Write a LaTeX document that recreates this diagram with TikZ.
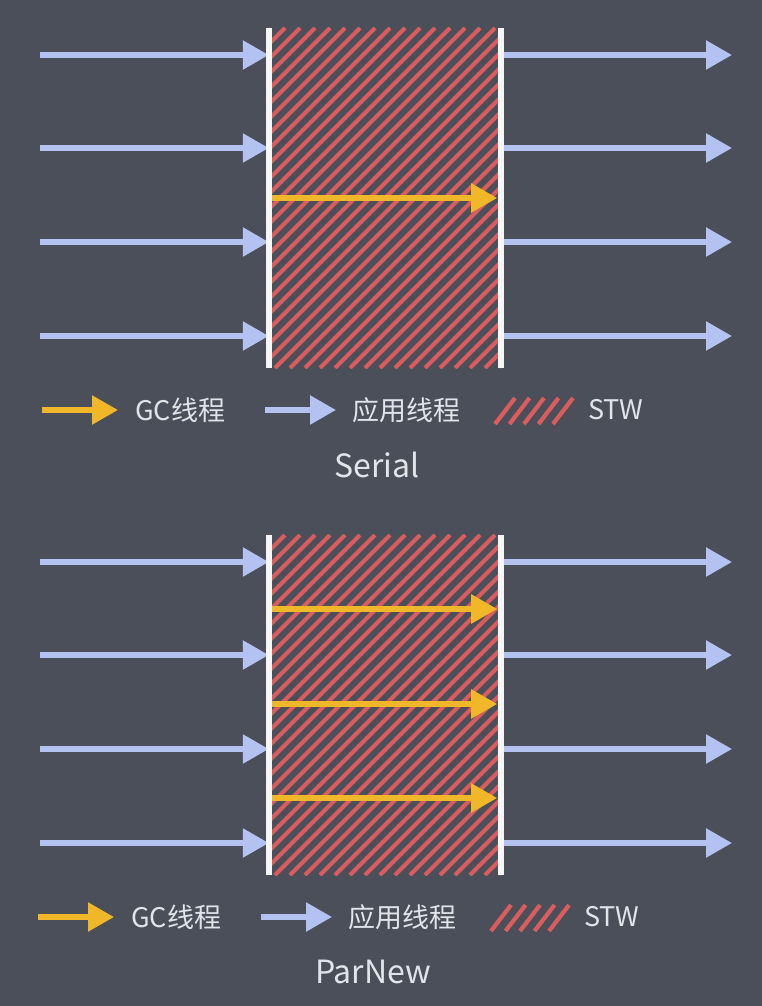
\documentclass[tikz,border=0pt]{standalone}
\usepackage{fontspec}
\setmainfont{Noto Sans CJK SC}
\usetikzlibrary{arrows.meta,positioning}
\definecolor{bgcol}{RGB}{75,79,90}
\definecolor{appcol}{RGB}{180,194,242}
\definecolor{gccol}{RGB}{240,184,40}
\definecolor{stwcol}{RGB}{218,92,92}
\definecolor{wallcol}{RGB}{246,246,246}
\definecolor{txtcol}{RGB}{226,228,234}

\begin{document}
\begin{tikzpicture}[x=1pt,y=-1pt,>={Triangle[length=26pt,width=28pt]},
 app/.style={->,draw=appcol,line width=5.5pt},
 gc/.style={->,draw=gccol,line width=5.5pt},
 wall/.style={draw=wallcol,line width=5.5pt},
 hatch/.style={draw=stwcol,line width=4.2pt},
 stwbox/.style={minimum width=232pt,minimum height=340pt,inner sep=0pt},
 keytext/.style={text=txtcol,font=\fontsize{27}{31}\selectfont,inner sep=0pt,anchor=west},
 captext/.style={text=txtcol,font=\fontsize{32}{36}\selectfont,inner sep=0pt}]
\fill[bgcol] (0,0) rectangle (762,1006);
\useasboundingbox (0,0) rectangle (762,1006);
\foreach \p/\dy/\dx/\ttl/\gcys in {A/0/0/Serial/{170},B/507/-4/ParNew/{74,169,263}}{
\begin{scope}[shift={(0,\dy)}]
 \node[stwbox] (stw\p) at (385,198) {};
 % STW hatching
 \begin{scope}
  \clip (stw\p.north west) rectangle (stw\p.south east);
  \foreach \k in {0,...,39} \draw[hatch] (\k*15-70,368) -- ++(340,-340);
 \end{scope}
 % application threads
 \foreach \y [count=\i] in {55,148,242,336}{
  \coordinate (in\p\i) at (40,\y);
  \coordinate (out\p\i) at (732,\y);
  \draw[app] (in\p\i) -- (stw\p.west |- in\p\i);
  \draw[app] (stw\p.east |- out\p\i) -- (out\p\i);
 }
 % GC threads
 \foreach \y in \gcys{
  \coordinate (gc\p\y) at (0,\y+28);
  \draw[gc,shorten >=4pt] (stw\p.west |- gc\p\y) -- (stw\p.east |- gc\p\y);
 }
 \draw[wall] (stw\p.north west) -- (stw\p.south west);
 \draw[wall] (stw\p.north east) -- (stw\p.south east);
 % legend
 \begin{scope}[shift={(\dx,0)}]
  \coordinate (gcFrom\p) at (42,410);
  \coordinate (gcTo\p) at (118,410);
  \draw[gc] (gcFrom\p) -- (gcTo\p);
  \node[keytext,right=17pt of gcTo\p] (gcKey\p) {GC线程};
  \coordinate (appFrom\p) at (265,410);
  \coordinate (appTo\p) at (336,410);
  \draw[app] (appFrom\p) -- (appTo\p);
  \node[keytext,right=16pt of appTo\p] (appKey\p) {应用线程};
  \foreach \k in {0,...,4} \draw[hatch] (495+\k*14.5,424) -- ++(20,-26);
  \node[keytext] (stwKey\p) at (588,410) {STW};
  \node[captext] (cap\p) at (377,465) {\ttl};
 \end{scope}
\end{scope}}
\end{tikzpicture}
\end{document}
